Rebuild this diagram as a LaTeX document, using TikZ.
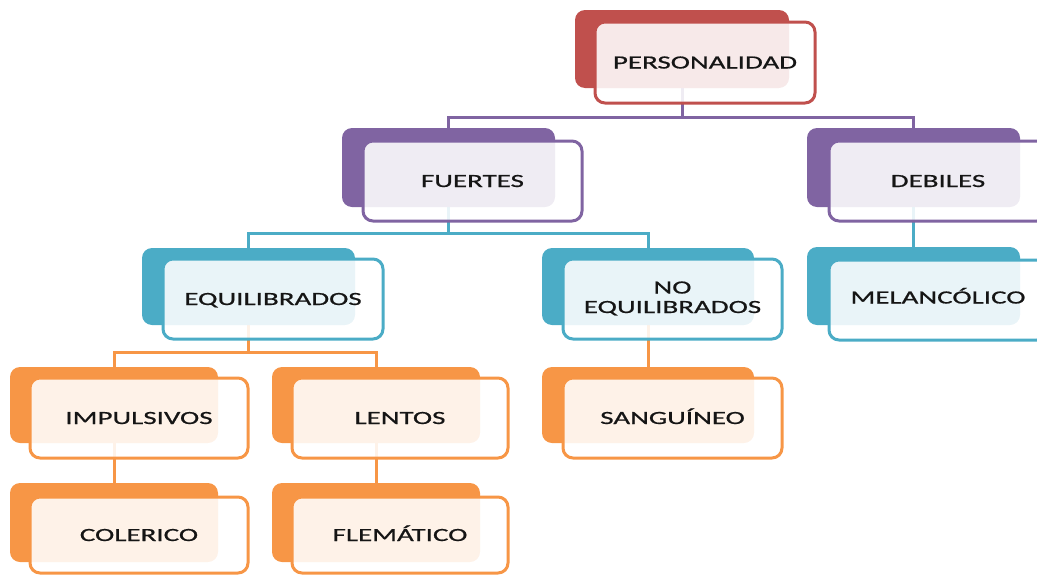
\documentclass[tikz,border=0pt]{standalone}
\usepackage{fontspec}
\setmainfont{Carlito}[FakeStretch=1.56,FakeBold=0.8]
\usetikzlibrary{fit,calc}
\pgfdeclarelayer{bg}
\pgfsetlayers{bg,main}
\definecolor{cred}{HTML}{C0504D}
\definecolor{cpur}{HTML}{8064A2}
\definecolor{cteal}{HTML}{4BACC6}
\definecolor{corg}{HTML}{F79646}
\definecolor{ctxt}{HTML}{151515}
\tikzset{
  backbox/.style={inner sep=0pt, rounded corners=10pt, fill=#1, draw=none},
  frontbox/.style={inner sep=0pt, rounded corners=10pt, draw=#1, line width=3pt, fill=white, fill opacity=0.88},
  lbl/.style={font=\fontsize{18.6}{19.5}\selectfont, text=ctxt, align=center, inner sep=0pt, anchor=base, yshift=-6pt},
  conn/.style={draw=#1, line width=3pt},
  noelbl/.style={yshift=-8pt},
  mellbl/.style={yshift=2.5pt}
}
% \tnode{name}{color}{back corner 1}{back corner 2}{front corner 1}{front corner 2}{text}
\newcommand{\tnode}[7]{%
  \node[backbox=#2, fit={#3 #4}] (#1B) {};
  \node[frontbox=#2, fit={#5 #6}] (#1F) {};
  \node[lbl, #1lbl/.try] (#1T) at (#1F.center) {#7};
}
\begin{document}
\begin{tikzpicture}[x=1pt,y=-1pt]
\useasboundingbox (0,0) rectangle (1037,576);
\clip (0,0) rectangle (1037,576);
\tnode{per}{cred}{(575,10)}{(789,88)}{(595,22)}{(815,103)}{PERSONALIDAD}
\tnode{fue}{cpur}{(342,128)}{(555,207)}{(363,141)}{(582,221)}{FUERTES}
\tnode{deb}{cpur}{(807,128)}{(1020,207)}{(829,141)}{(1047,221)}{DEBILES}
\tnode{equ}{cteal}{(142,248)}{(355,325)}{(163,259)}{(383,339)}{EQUILIBRADOS}
\tnode{noe}{cteal}{(542,248)}{(754,325)}{(563,259)}{(782,339)}{NO\\EQUILIBRADOS}
\tnode{mel}{cteal}{(807,247)}{(1020,325)}{(829,260)}{(1047,340)}{MELANCÓLICO}
\tnode{imp}{corg}{(10,367)}{(218,443)}{(30,378)}{(248,458)}{IMPULSIVOS}
\tnode{len}{corg}{(272,367)}{(480,443)}{(292,378)}{(508,458)}{LENTOS}
\tnode{san}{corg}{(542,367)}{(754,443)}{(563,378)}{(782,458)}{SANGUÍNEO}
\tnode{col}{corg}{(10,483)}{(218,562)}{(30,497)}{(248,573)}{COLERICO}
\tnode{fle}{corg}{(272,483)}{(480,562)}{(292,497)}{(508,573)}{FLEMÁTICO}
\coordinate (bus1) at (0,117);
\coordinate (bus2) at (0,233);
\coordinate (bus3) at (0,352);
\begin{pgfonlayer}{bg}
  \draw[conn=cpur] (perB.south) |- (fueB.north |- bus1) -- (fueB.north);
  \draw[conn=cpur] (perB.south |- bus1) -| (debB.north);
  \draw[conn=cteal] (fueB.south) |- (equB.north |- bus2) -- (equB.north);
  \draw[conn=cteal] (fueB.south |- bus2) -| (noeB.north);
  \draw[conn=cteal] (debB.south) -- (melB.north);
  \draw[conn=corg] (equB.south) |- (impB.north |- bus3) -- (impB.north);
  \draw[conn=corg] (equB.south |- bus3) -| (lenB.north);
  \draw[conn=corg] (noeB.south) -- (sanB.north);
  \draw[conn=corg] (impB.south) -- (colB.north);
  \draw[conn=corg] (lenB.south) -- (fleB.north);
\end{pgfonlayer}
\end{tikzpicture}
\end{document}
